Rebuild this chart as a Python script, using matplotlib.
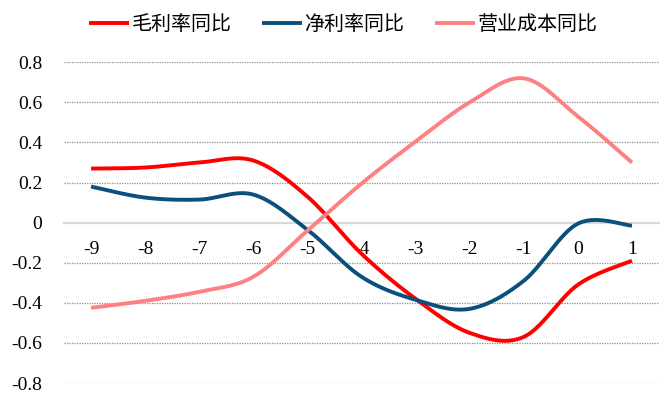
import numpy as np
import matplotlib
matplotlib.use("Agg")
import matplotlib.pyplot as plt

plt.rcParams["font.family"] = ["Liberation Serif", "DejaVu Serif"]
plt.rcParams["font.size"] = 14

categories = ["-9", "-8", "-7", "-6", "-5", "-4", "-3", "-2", "-1", "0", "1"]
gross_margin_yoy = [0.27, 0.275, 0.30, 0.31, 0.13, -0.155, -0.38, -0.55, -0.57, -0.31, -0.19]
net_margin_yoy = [0.18, 0.125, 0.115, 0.14, -0.035, -0.27, -0.385, -0.43, -0.29, -0.005, -0.015]
cost_yoy = [-0.425, -0.39, -0.345, -0.27, -0.04, 0.195, 0.405, 0.60, 0.72, 0.53, 0.30]
series_names = ["毛利率同比", "净利率同比", "营业成本同比"]
colors = ["#FF0000", "#0B4F7C", "#FF8080"]
yticks = [-0.8, -0.6, -0.4, -0.2, 0, 0.2, 0.4, 0.6, 0.8]


def smooth(y, n=40):
    """Excel-like smoothed line (Catmull-Rom bezier)."""
    x = np.arange(len(y), dtype=float)
    y = np.asarray(y, dtype=float)
    px = np.concatenate([[x[0]], x, [x[-1]]])
    py = np.concatenate([[y[0]], y, [y[-1]]])
    xs, ys = [], []
    t = np.linspace(0, 1, n)
    for i in range(len(y) - 1):
        p0 = np.array([px[i], py[i]])
        p1 = np.array([px[i + 1], py[i + 1]])
        p2 = np.array([px[i + 2], py[i + 2]])
        p3 = np.array([px[i + 3], py[i + 3]])
        c1 = p1 + (p2 - p0) / 6
        c2 = p2 - (p3 - p1) / 6
        b = ((1 - t) ** 3)[:, None] * p1 + (3 * (1 - t) ** 2 * t)[:, None] * c1 \
            + (3 * (1 - t) * t ** 2)[:, None] * c2 + (t ** 3)[:, None] * p2
        xs.append(b[:, 0])
        ys.append(b[:, 1])
    return np.concatenate(xs), np.concatenate(ys)


fig = plt.figure(figsize=(6.69, 3.96), dpi=100)
ax = fig.add_axes([64 / 669, 13 / 396, 595 / 669, 320.7 / 396])

for vals, name, c in zip([gross_margin_yoy, net_margin_yoy, cost_yoy], series_names, colors):
    sx, sy = smooth(vals)
    ax.plot(sx, sy, color=c, lw=2.8, label=name, solid_capstyle="butt")

ax.set_xlim(-0.5, len(categories) - 0.5)
ax.set_ylim(-0.8, 0.8)
ax.set_yticks(yticks)
ax.set_yticklabels(["0" if v == 0 else f"{v:.1f}" for v in yticks])
ax.tick_params(axis="y", length=0, pad=15.5, labelsize=14)

for v in yticks:
    if v == 0:
        continue
    ax.axhline(v, color="#8c8c8c", lw=0.9, ls=(0, (1, 1)), zorder=0)

for s in ["top", "right", "left"]:
    ax.spines[s].set_visible(False)
ax.spines["bottom"].set_position(("data", 0))
ax.spines["bottom"].set_color("#d9d9d9")
ax.spines["bottom"].set_linewidth(1.6)
ax.spines["bottom"].set_zorder(0)
ax.set_xticks(range(len(categories)))
ax.set_xticklabels(categories)
ax.tick_params(axis="x", length=0, pad=13, labelsize=14)

leg = fig.legend(loc="center", bbox_to_anchor=(343 / 669, 1 - 24 / 396), ncol=3, frameon=False,
                 prop={"family": ["Noto Sans CJK SC", "DejaVu Sans"], "size": 14.4},
                 handlelength=2.0, handletextpad=0.15, columnspacing=1.5)

fig.savefig("out.png", dpi=100)
